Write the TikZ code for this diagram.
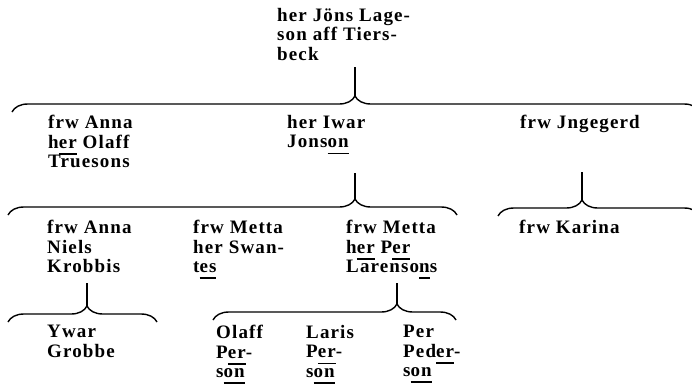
\documentclass[tikz,border=0pt]{standalone}
\usepackage{fontspec}
\setmainfont[LetterSpace=6]{Liberation Serif}
\usetikzlibrary{decorations.pathreplacing}
\newcommand\abk[1]{\setbox0=\hbox{#1}\rlap{\rule[-6.5pt]{\wd0}{1.7pt}}\box0\relax}

\begin{document}
\begin{tikzpicture}[x=1pt,y=-1pt]
    \tikzstyle{person}=[anchor=north west,inner sep=0pt,align=left,
        font=\bfseries\fontsize{19}{19.5}\selectfont]
    \tikzstyle{kinbrace}=[line width=1.4pt,decorate,decoration={brace,amplitude=16pt}]
    \tikzstyle{stem}=[line width=1.4pt]
    \path[use as bounding box] (0,0) rectangle (692,383);
    \clip (0,0) rectangle (692,383);
    % Persons
    \node[person] (jons) at (277,8) {her Jöns Lage-\\son aff Tiers-\\beck};
    \node[person] (anna1) at (48,115) {frw Anna\\h\abk{er} Olaff\\Truesons};
    \node[person] (iwar) at (287,115) {her Iwar\\Jons\abk{on}};
    \node[person] (jngegerd) at (520,115) {frw Jngegerd};
    \node[person] (anna2) at (47,220) {frw Anna\\Niels\\Krobbis};
    \node[person] (metta1) at (193,220) {frw Metta\\her Swan-\\t\abk{es}};
    \node[person] (metta2) at (346,220) {frw Metta\\h\abk{er} P\abk{er}\\Larenso\abk{n}s};
    \node[person] (karina) at (519,220) {frw Karina};
    \node[person] (ywar) at (47,325) {Ywar\\Grobbe};
    \node[person] (olaff) at (216,325) {Olaff\\P\abk{er}-\\s\abk{on}};
    \node[person] (laris) at (306,325) {Laris\\P\abk{er}-\\s\abk{on}};
    \node[person] (per) at (403,325) {Per\\Ped\abk{er}-\\s\abk{on}};
    % Brace ends and tips
    \coordinate (jonsl) at (12,112); \coordinate (jonsr) at (700,112);
    \coordinate (jonst) at (355,96); \coordinate (jonss) at (355,67);
    \coordinate (iwarl) at (8,215); \coordinate (iwarr) at (457,215);
    \coordinate (iwart) at (355,199); \coordinate (iwars) at (355,173);
    \coordinate (jngl) at (498,216); \coordinate (jngr) at (700,216);
    \coordinate (jngt) at (582,200); \coordinate (jngs) at (582,172);
    \coordinate (annal) at (8,322); \coordinate (annar) at (157,322);
    \coordinate (annat) at (87,306); \coordinate (annas) at (87,283);
    \coordinate (mettal) at (213,320); \coordinate (mettar) at (456,320);
    \coordinate (mettat) at (397,304); \coordinate (mettas) at (397,283);
    % Braces
    \draw[kinbrace,decoration={aspect=0.4985}] (jonsl) -- (jonsr);
    \draw[kinbrace,decoration={aspect=0.7728}] (iwarl) -- (iwarr);
    \draw[kinbrace,decoration={aspect=0.4158}] (jngl) -- (jngr);
    \draw[kinbrace,decoration={aspect=0.530}] (annal) -- (annar);
    \draw[kinbrace,decoration={aspect=0.757}] (mettal) -- (mettar);
    % Stems
    \draw[stem] (jonss) -- (jonst);
    \draw[stem] (iwars) -- (iwart);
    \draw[stem] (jngs) -- (jngt);
    \draw[stem] (annas) -- (annat);
    \draw[stem] (mettas) -- (mettat);
\end{tikzpicture}
\end{document}
